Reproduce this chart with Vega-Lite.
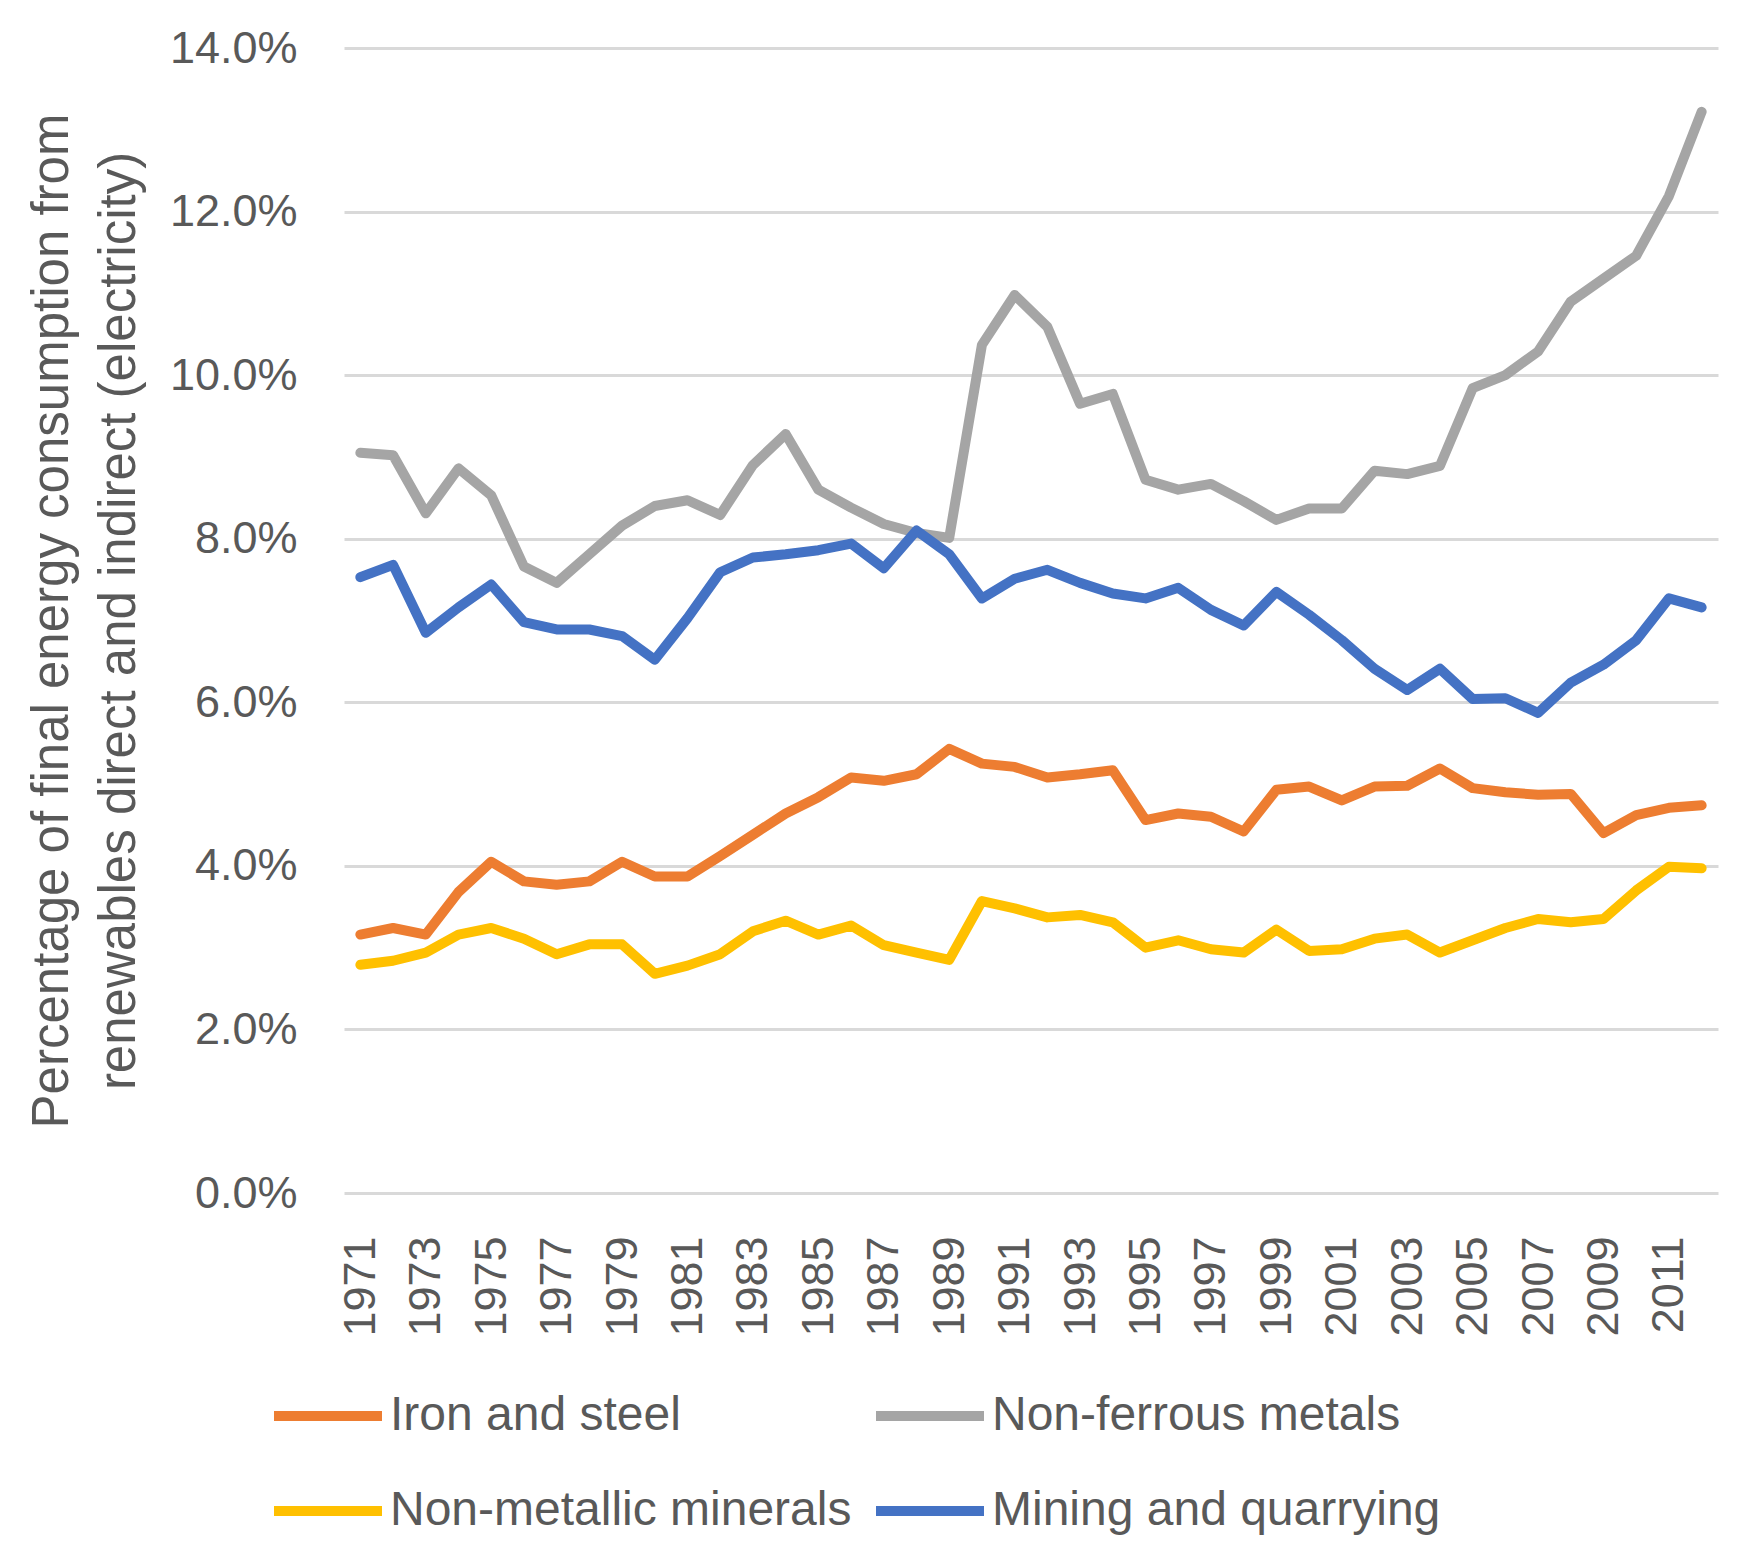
{
  "$schema": "https://vega.github.io/schema/vega-lite/v6.json",
  "description": "Share of final energy consumption from renewables, direct and indirect (electricity), by industry sector",
  "width": 1374,
  "height": 1145,
  "autosize": {"type": "none"},
  "padding": {"left": 344, "top": 48, "right": 29, "bottom": 366},
  "background": "white",
  "config": {
    "view": {"stroke": null},
    "font": "Liberation Sans"
  },
  "data": {
    "values": [
      {"year": 1971, "Iron and steel": 3.16, "Non-ferrous metals": 9.05, "Non-metallic minerals": 2.79, "Mining and quarrying": 7.53},
      {"year": 1972, "Iron and steel": 3.24, "Non-ferrous metals": 9.02, "Non-metallic minerals": 2.84, "Mining and quarrying": 7.68},
      {"year": 1973, "Iron and steel": 3.16, "Non-ferrous metals": 8.31, "Non-metallic minerals": 2.94, "Mining and quarrying": 6.85},
      {"year": 1974, "Iron and steel": 3.68, "Non-ferrous metals": 8.86, "Non-metallic minerals": 3.16, "Mining and quarrying": 7.16},
      {"year": 1975, "Iron and steel": 4.05, "Non-ferrous metals": 8.53, "Non-metallic minerals": 3.24, "Mining and quarrying": 7.44},
      {"year": 1976, "Iron and steel": 3.81, "Non-ferrous metals": 7.66, "Non-metallic minerals": 3.11, "Mining and quarrying": 6.98},
      {"year": 1977, "Iron and steel": 3.77, "Non-ferrous metals": 7.46, "Non-metallic minerals": 2.92, "Mining and quarrying": 6.89},
      {"year": 1978, "Iron and steel": 3.81, "Non-ferrous metals": 7.81, "Non-metallic minerals": 3.04, "Mining and quarrying": 6.89},
      {"year": 1979, "Iron and steel": 4.05, "Non-ferrous metals": 8.16, "Non-metallic minerals": 3.04, "Mining and quarrying": 6.81},
      {"year": 1980, "Iron and steel": 3.87, "Non-ferrous metals": 8.40, "Non-metallic minerals": 2.68, "Mining and quarrying": 6.52},
      {"year": 1981, "Iron and steel": 3.87, "Non-ferrous metals": 8.47, "Non-metallic minerals": 2.78, "Mining and quarrying": 7.03},
      {"year": 1982, "Iron and steel": 4.12, "Non-ferrous metals": 8.29, "Non-metallic minerals": 2.92, "Mining and quarrying": 7.59},
      {"year": 1983, "Iron and steel": 4.38, "Non-ferrous metals": 8.90, "Non-metallic minerals": 3.20, "Mining and quarrying": 7.77},
      {"year": 1984, "Iron and steel": 4.64, "Non-ferrous metals": 9.28, "Non-metallic minerals": 3.33, "Mining and quarrying": 7.81},
      {"year": 1985, "Iron and steel": 4.84, "Non-ferrous metals": 8.60, "Non-metallic minerals": 3.16, "Mining and quarrying": 7.86},
      {"year": 1986, "Iron and steel": 5.08, "Non-ferrous metals": 8.38, "Non-metallic minerals": 3.27, "Mining and quarrying": 7.94},
      {"year": 1987, "Iron and steel": 5.04, "Non-ferrous metals": 8.18, "Non-metallic minerals": 3.03, "Mining and quarrying": 7.64},
      {"year": 1988, "Iron and steel": 5.12, "Non-ferrous metals": 8.07, "Non-metallic minerals": 2.94, "Mining and quarrying": 8.10},
      {"year": 1989, "Iron and steel": 5.43, "Non-ferrous metals": 8.01, "Non-metallic minerals": 2.85, "Mining and quarrying": 7.81},
      {"year": 1990, "Iron and steel": 5.25, "Non-ferrous metals": 10.37, "Non-metallic minerals": 3.57, "Mining and quarrying": 7.27},
      {"year": 1991, "Iron and steel": 5.21, "Non-ferrous metals": 10.98, "Non-metallic minerals": 3.48, "Mining and quarrying": 7.51},
      {"year": 1992, "Iron and steel": 5.08, "Non-ferrous metals": 10.59, "Non-metallic minerals": 3.37, "Mining and quarrying": 7.62},
      {"year": 1993, "Iron and steel": 5.12, "Non-ferrous metals": 9.65, "Non-metallic minerals": 3.40, "Mining and quarrying": 7.46},
      {"year": 1994, "Iron and steel": 5.17, "Non-ferrous metals": 9.77, "Non-metallic minerals": 3.31, "Mining and quarrying": 7.33},
      {"year": 1995, "Iron and steel": 4.56, "Non-ferrous metals": 8.72, "Non-metallic minerals": 3.00, "Mining and quarrying": 7.27},
      {"year": 1996, "Iron and steel": 4.64, "Non-ferrous metals": 8.60, "Non-metallic minerals": 3.09, "Mining and quarrying": 7.40},
      {"year": 1997, "Iron and steel": 4.60, "Non-ferrous metals": 8.67, "Non-metallic minerals": 2.98, "Mining and quarrying": 7.13},
      {"year": 1998, "Iron and steel": 4.42, "Non-ferrous metals": 8.46, "Non-metallic minerals": 2.94, "Mining and quarrying": 6.94},
      {"year": 1999, "Iron and steel": 4.93, "Non-ferrous metals": 8.23, "Non-metallic minerals": 3.22, "Mining and quarrying": 7.35},
      {"year": 2000, "Iron and steel": 4.97, "Non-ferrous metals": 8.37, "Non-metallic minerals": 2.96, "Mining and quarrying": 7.07},
      {"year": 2001, "Iron and steel": 4.80, "Non-ferrous metals": 8.37, "Non-metallic minerals": 2.98, "Mining and quarrying": 6.76},
      {"year": 2002, "Iron and steel": 4.97, "Non-ferrous metals": 8.83, "Non-metallic minerals": 3.11, "Mining and quarrying": 6.41},
      {"year": 2003, "Iron and steel": 4.98, "Non-ferrous metals": 8.79, "Non-metallic minerals": 3.16, "Mining and quarrying": 6.15},
      {"year": 2004, "Iron and steel": 5.19, "Non-ferrous metals": 8.89, "Non-metallic minerals": 2.94, "Mining and quarrying": 6.41},
      {"year": 2005, "Iron and steel": 4.95, "Non-ferrous metals": 9.84, "Non-metallic minerals": 3.09, "Mining and quarrying": 6.04},
      {"year": 2006, "Iron and steel": 4.90, "Non-ferrous metals": 10.00, "Non-metallic minerals": 3.24, "Mining and quarrying": 6.05},
      {"year": 2007, "Iron and steel": 4.87, "Non-ferrous metals": 10.29, "Non-metallic minerals": 3.35, "Mining and quarrying": 5.87},
      {"year": 2008, "Iron and steel": 4.88, "Non-ferrous metals": 10.90, "Non-metallic minerals": 3.31, "Mining and quarrying": 6.24},
      {"year": 2009, "Iron and steel": 4.40, "Non-ferrous metals": 11.18, "Non-metallic minerals": 3.35, "Mining and quarrying": 6.46},
      {"year": 2010, "Iron and steel": 4.62, "Non-ferrous metals": 11.46, "Non-metallic minerals": 3.70, "Mining and quarrying": 6.76},
      {"year": 2011, "Iron and steel": 4.71, "Non-ferrous metals": 12.19, "Non-metallic minerals": 3.99, "Mining and quarrying": 7.27},
      {"year": 2012, "Iron and steel": 4.74, "Non-ferrous metals": 13.22, "Non-metallic minerals": 3.97, "Mining and quarrying": 7.16}
    ]
  },
  "transform": [
    {"fold": ["Iron and steel", "Non-ferrous metals", "Non-metallic minerals", "Mining and quarrying"], "as": ["series", "share"]}
  ],
  "mark": {"type": "line", "strokeWidth": 10, "strokeJoin": "round", "strokeCap": "round"},
  "encoding": {
    "x": {
      "field": "year",
      "type": "quantitative",
      "scale": {"domain": [1970.5, 2012.5], "nice": false, "zero": false},
      "axis": {
        "title": null,
        "values": [1971, 1973, 1975, 1977, 1979, 1981, 1983, 1985, 1987, 1989, 1991, 1993, 1995, 1997, 1999, 2001, 2003, 2005, 2007, 2009, 2011],
        "format": "d",
        "labelAngle": -90,
        "labelFontSize": 45,
        "labelColor": "#595959",
        "labelPadding": 43,
        "ticks": false,
        "domain": false,
        "grid": false
      }
    },
    "y": {
      "field": "share",
      "type": "quantitative",
      "scale": {"domain": [0, 14], "nice": false},
      "axis": {
        "title": ["Percentage of final energy consumption from", "renewables direct and indirect (electricity)"],
        "titleFontSize": 51,
        "titleFontWeight": "normal",
        "titleColor": "#595959",
        "titleLineHeight": 67,
        "titlePadding": 24,
        "values": [0, 2, 4, 6, 8, 10, 12, 14],
        "labelExpr": "format(datum.value, '.1f') + '%'",
        "labelFontSize": 45,
        "labelColor": "#595959",
        "labelPadding": 47,
        "ticks": false,
        "domain": false,
        "grid": true,
        "gridColor": "#D9D9D9",
        "gridWidth": 3
      }
    },
    "color": {
      "field": "series",
      "type": "nominal",
      "scale": {
        "domain": ["Iron and steel", "Non-ferrous metals", "Non-metallic minerals", "Mining and quarrying"],
        "range": ["#ED7D31", "#A5A5A5", "#FFC000", "#4472C4"]
      },
      "legend": {
        "title": null,
        "orient": "none",
        "legendX": -40,
        "legendY": 1344,
        "direction": "horizontal",
        "columns": 2,
        "padding": 0,
        "columnPadding": 4,
        "rowPadding": 47,
        "symbolType": "M-3,0H3",
        "symbolSize": 1296,
        "symbolStrokeWidth": 10,
        "labelOffset": 38,
        "labelFontSize": 48,
        "labelColor": "#595959",
        "labelLimit": 800
      }
    }
  }
}
